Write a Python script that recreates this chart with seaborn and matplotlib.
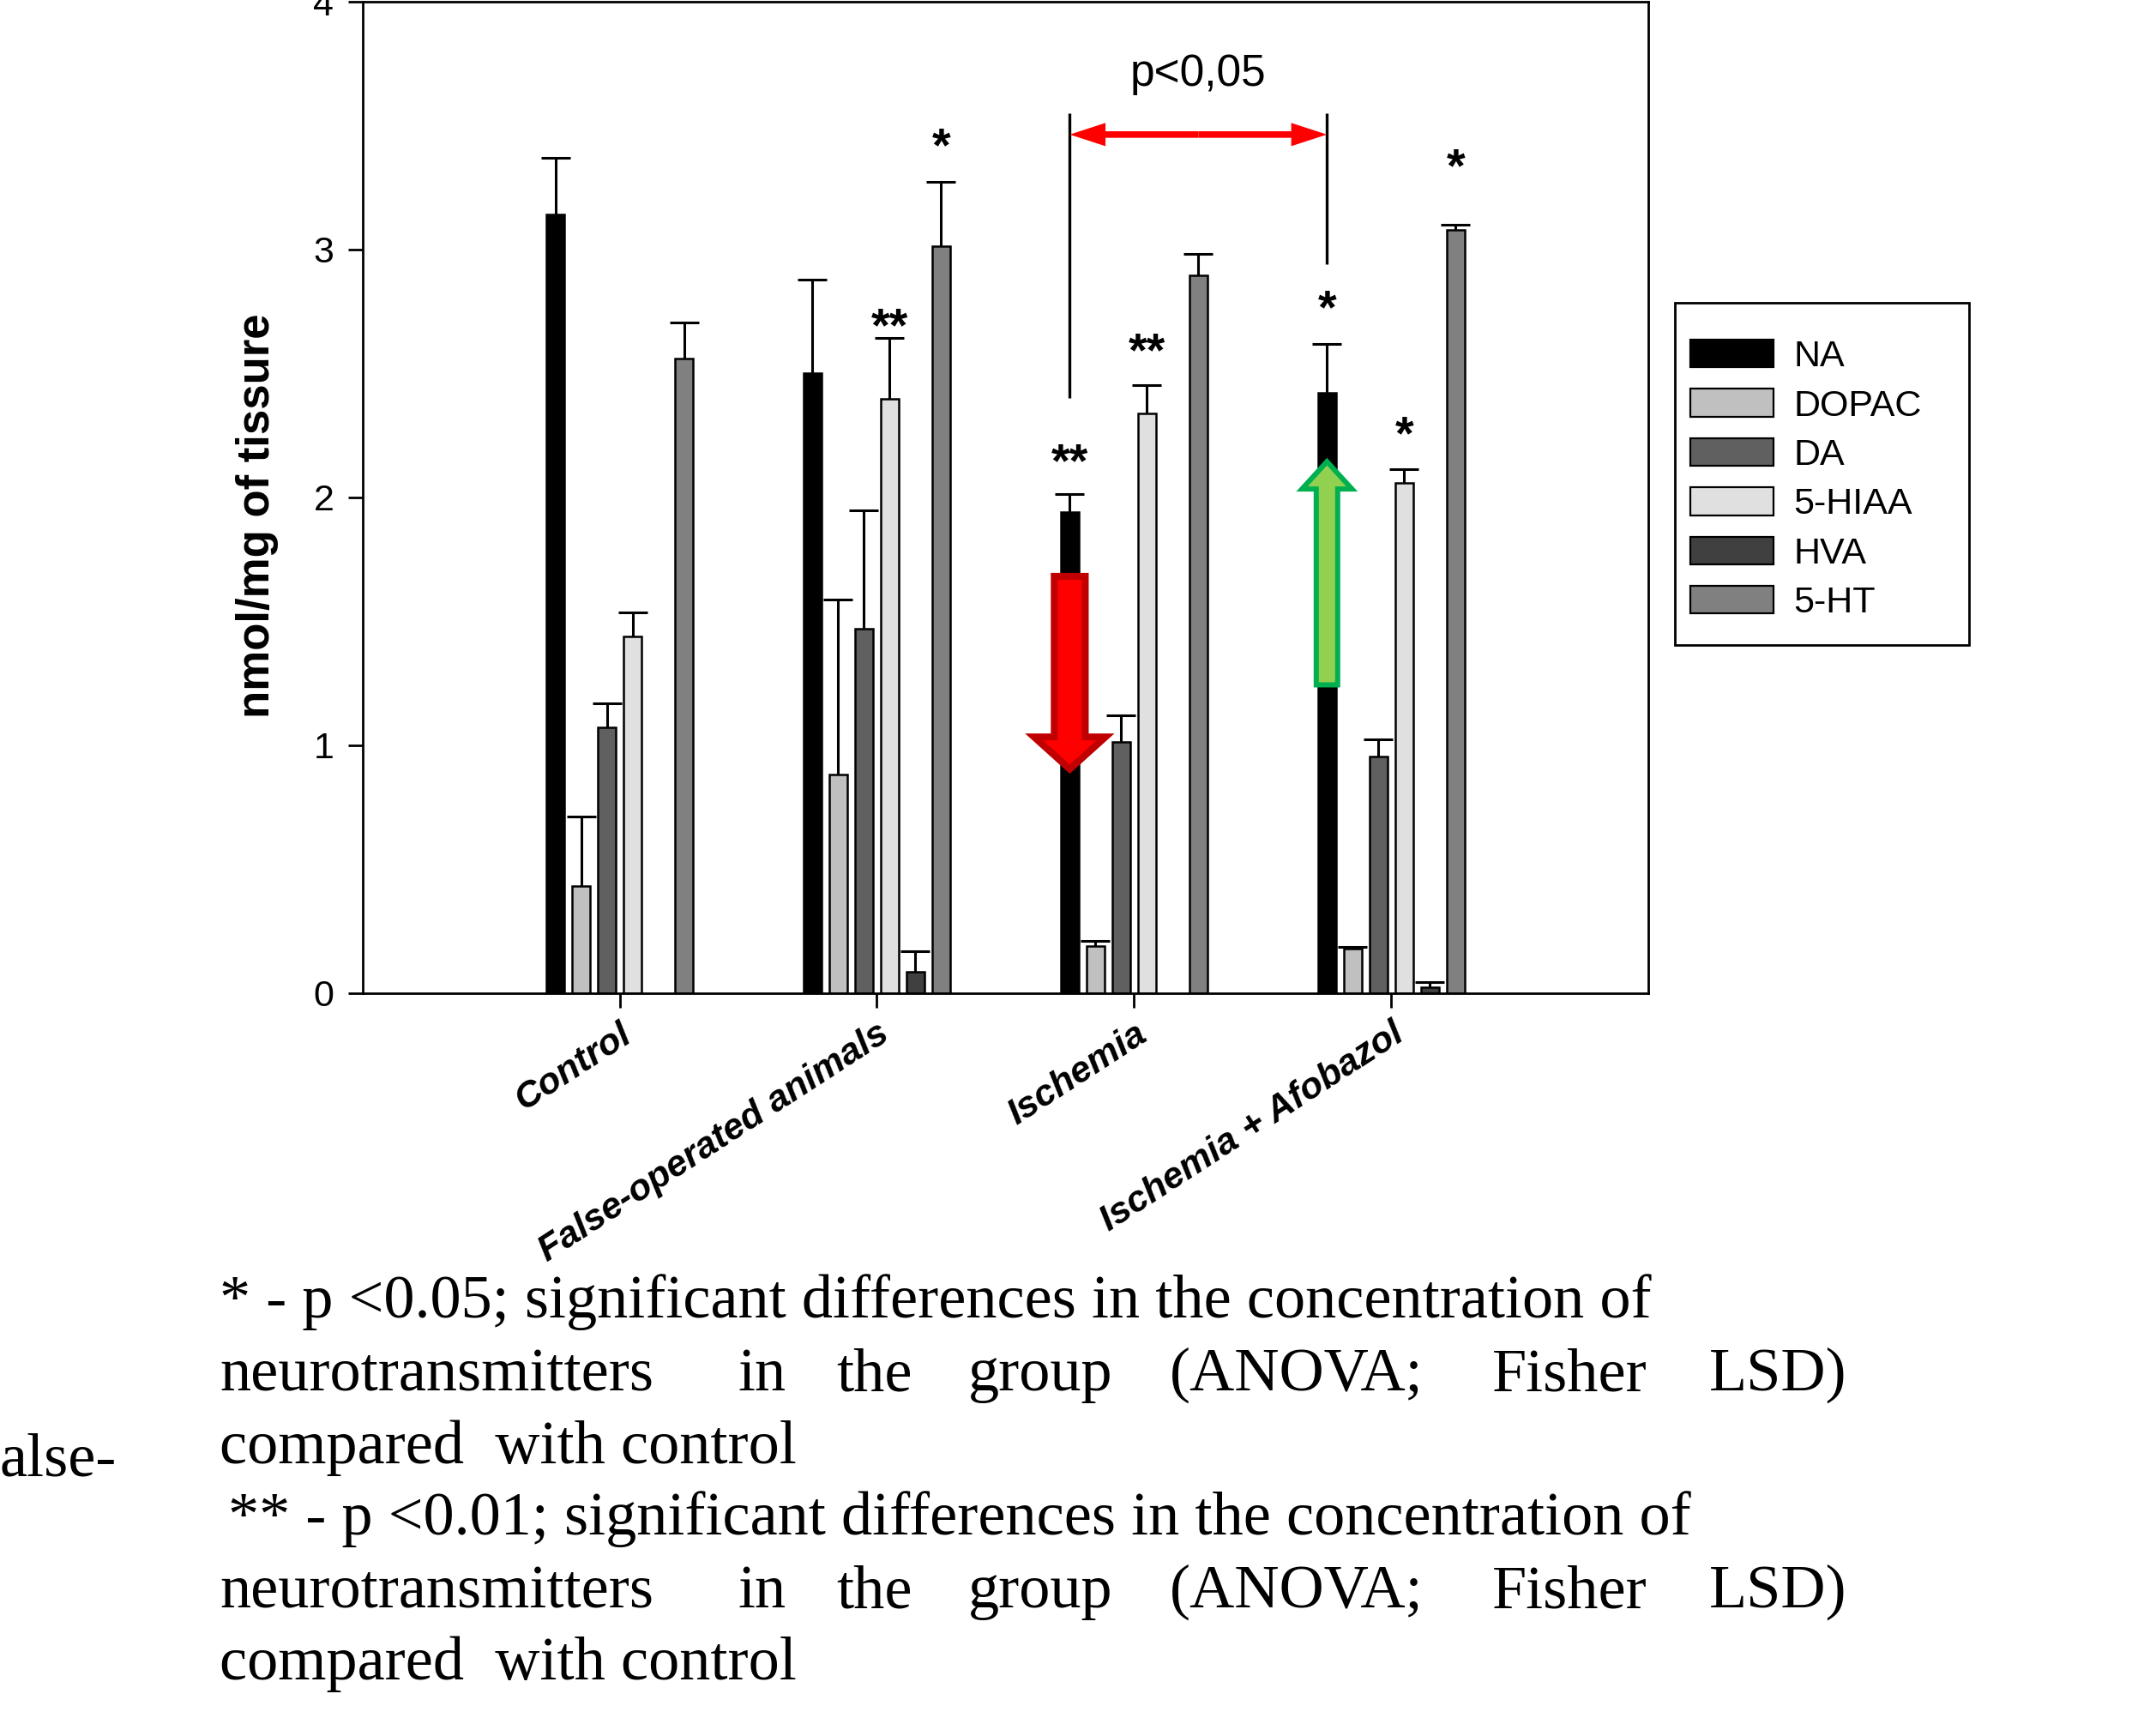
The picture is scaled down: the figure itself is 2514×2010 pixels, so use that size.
import numpy as np
import pandas as pd
import matplotlib
matplotlib.use("Agg")
import matplotlib.pyplot as plt
import seaborn as sns
from matplotlib.patches import FancyArrowPatch, Rectangle, Patch, ArrowStyle

# ---------------- data ----------------
groups = ["Control", "False-operated animals", "Ischemia", "Ischemia + Afobazol"]
substances = ["NA", "DOPAC", "DA", "5-HIAA", "HVA", "5-HT"]
colors = ["#000000", "#c0c0c0", "#606060", "#e0e0e0", "#404040", "#808080"]

na_vals = [3.14, 2.50, 1.94, 2.42]
na_err = [0.23, 0.38, 0.074, 0.20]
dopac_vals = [0.43, 0.88, 0.19, 0.18]
dopac_err = [0.28, 0.706, 0.021, 0.004]
da_vals = [1.07, 1.47, 1.013, 0.954]
da_err = [0.098, 0.476, 0.108, 0.069]
hiaa_vals = [1.437, 2.398, 2.34, 2.057]
hiaa_err = [0.10, 0.246, 0.113, 0.055]
hva_vals = [np.nan, 0.085, np.nan, 0.024]
hva_err = [np.nan, 0.082, np.nan, 0.021]
ht_vals = [2.561, 3.014, 2.895, 3.08]
ht_err = [0.145, 0.259, 0.087, 0.021]

# significance marks: (group, substance, label, height of mark centre)
sig_groups = ["False-operated animals", "False-operated animals", "Ischemia", "Ischemia",
              "Ischemia + Afobazol", "Ischemia + Afobazol", "Ischemia + Afobazol"]
sig_subst = ["5-HIAA", "5-HT", "NA", "5-HIAA", "NA", "5-HIAA", "5-HT"]
sig_labels = ["**", "*", "**", "**", "*", "*", "*"]
sig_heights = [2.744, 3.471, 2.197, 2.644, 2.816, 2.308, 3.387]

ylabel = "nmol/mg of tissure"
ptext = "p<0,05"

all_vals = [na_vals, dopac_vals, da_vals, hiaa_vals, hva_vals, ht_vals]
all_errs = [na_err, dopac_err, da_err, hiaa_err, hva_err, ht_err]

rows = []
err_lookup = {}
for s, vals, errs in zip(substances, all_vals, all_errs):
    for g, v, e in zip(groups, vals, errs):
        rows.append({"group": g, "substance": s, "value": v})
        err_lookup[(g, s)] = e
df = pd.DataFrame(rows)

# ---------------- style ----------------
sns.set_theme(style="white")
plt.rcParams["font.family"] = ["Liberation Sans", "DejaVu Sans"]
plt.rcParams["axes.linewidth"] = 2.0
for k in ["text.color", "axes.labelcolor", "xtick.color", "ytick.color", "axes.edgecolor"]:
    plt.rcParams[k] = "black"

fig = plt.figure(figsize=(25.14, 20.10), dpi=100)
ax = fig.add_axes([0.1681, 0.4241, 0.5965, 0.5749])

palette = dict(zip(substances, colors))
sns.barplot(data=df, x="group", y="value", hue="substance", order=groups,
            hue_order=substances, palette=palette, width=0.6, gap=0.3,
            edgecolor="black", linewidth=1.8, errorbar=None, legend=False,
            saturation=1, ax=ax, zorder=2)

# bar positions from the drawn patches
bar_info = {}
for p in list(ax.patches):
    h = p.get_height()
    if not np.isfinite(h):
        continue
    xc = p.get_x() + p.get_width() / 2
    gi = int(round(xc))
    si = int(round((xc - gi + 0.25) / 0.1))
    key = (groups[gi], substances[si])
    bar_info[key] = (xc, h)

for key, (xc, h) in bar_info.items():
    e = err_lookup[key]
    if not np.isfinite(e):
        continue
    _, caps, _ = ax.errorbar([xc], [h], yerr=[[0], [e]], fmt="none", ecolor="black",
                             elinewidth=2.2, capsize=12, capthick=2.2, zorder=3)
    if len(caps) == 2:
        caps[0].set_visible(False)

# significance stars
STAR_FS = 40
for g, s, lab, yc in zip(sig_groups, sig_subst, sig_labels, sig_heights):
    xc, _ = bar_info[(g, s)]
    ax.annotate(lab, xy=(xc, yc), xytext=(0, -0.585 * STAR_FS), textcoords="offset points",
                ha="center", va="baseline", fontsize=STAR_FS, fontweight="bold", color="black")

# comparison bracket between Ischemia NA and Ischemia + Afobazol NA
x_left = bar_info[("Ischemia", "NA")][0]
x_right = bar_info[("Ischemia + Afobazol", "NA")][0]
ax.vlines([x_left], 2.40, 3.55, colors="black", linewidth=2.4, zorder=4)
ax.vlines([x_right], 2.94, 3.55, colors="black", linewidth=2.4, zorder=4)
xm = (x_left + x_right) / 2
for xa, xb in [(xm, x_left), (xm, x_right)]:
    ax.add_patch(FancyArrowPatch((xa, 3.464), (xb, 3.464),
                                 arrowstyle=ArrowStyle.Simple(head_length=30, head_width=19.5, tail_width=5.5),
                                 mutation_scale=1, shrinkA=0, shrinkB=0,
                                 facecolor="#ff0000", edgecolor="none", zorder=5))
ax.text(xm, 3.661, ptext, ha="center", va="baseline", fontsize=37, color="black")

# block arrows
ax.add_patch(FancyArrowPatch((x_left, 1.681), (x_left, 0.903),
                             arrowstyle=ArrowStyle.Simple(head_length=27, head_width=60, tail_width=26),
                             mutation_scale=1, shrinkA=0, shrinkB=0, joinstyle="miter",
                             facecolor="#ff0000", edgecolor="#c00000", linewidth=5.8, zorder=6))
ax.add_patch(FancyArrowPatch((x_right, 1.243), (x_right, 2.144),
                             arrowstyle=ArrowStyle.Simple(head_length=23, head_width=42, tail_width=18),
                             mutation_scale=1, shrinkA=0, shrinkB=0, joinstyle="miter",
                             facecolor="#92d050", edgecolor="#00b050", linewidth=4.3, zorder=6))

# axes styling
ax.set_xlim(-1, 4)
ax.set_ylim(0, 4)
ax.set_yticks([0, 1, 2, 3, 4])
ax.set_xticks(range(len(groups)))
ax.set_xticklabels(groups, rotation=33, ha="right", rotation_mode="anchor",
                   fontweight="bold", fontstyle="italic", fontsize=31)
ax.tick_params(axis="y", labelsize=31, length=12, width=2.0, pad=12, direction="out", left=True)
ax.tick_params(axis="x", length=12, width=2.0, pad=8, direction="out", bottom=True)
for sp in ax.spines.values():
    sp.set_color("black")
    sp.set_linewidth(2.0)
ax.set_xlabel("")
ax.set_ylabel(ylabel, fontsize=38, fontweight="bold")
ax.yaxis.set_label_coords(-0.0818, 0.4817)
ax.yaxis.label.set_va("center")

# legend
handles = [Patch(facecolor=c, edgecolor="black", linewidth=1.6) for c in colors]
fig.legend(handles, substances, loc="upper left", bbox_to_anchor=(0.784, 0.803),
           frameon=False, fontsize=31, handlelength=2.25, handleheight=0.78,
           handletextpad=0.55, labelspacing=0.4, borderpad=0, borderaxespad=0)
fig.patches.append(Rectangle((0.7768, 0.6259), 0.1364, 0.1985, transform=fig.transFigure,
                             fill=False, edgecolor="black", linewidth=2.0))

# footnote
serif = ["Liberation Serif", "DejaVu Serif"]
fs = 52
W, H = 2514.0, 2010.0

def ftext(xpx, ybase_px, s):
    fig.text(xpx / W, 1 - ybase_px / H, s, family=serif, fontsize=fs, ha="left", va="baseline")

ftext(256, 1536, "* - p <0.05; significant differences in the concentration of")
words = ["neurotransmitters", "in", "the", "group", "(ANOVA;", "Fisher", "LSD)"]
word_x = [256, 861, 975, 1129, 1364, 1740, 1993]
for w, xw in zip(words, word_x):
    ftext(xw, 1621, w)
ftext(256, 1706, "compared  with control")
ftext(266, 1789, "** - p <0.01; significant differences in the concentration of")
for w, xw in zip(words, word_x):
    ftext(xw, 1874, w)
ftext(256, 1958, "compared  with control")
ftext(0, 1720, "alse-")

fig.savefig("out.png", dpi=100)
